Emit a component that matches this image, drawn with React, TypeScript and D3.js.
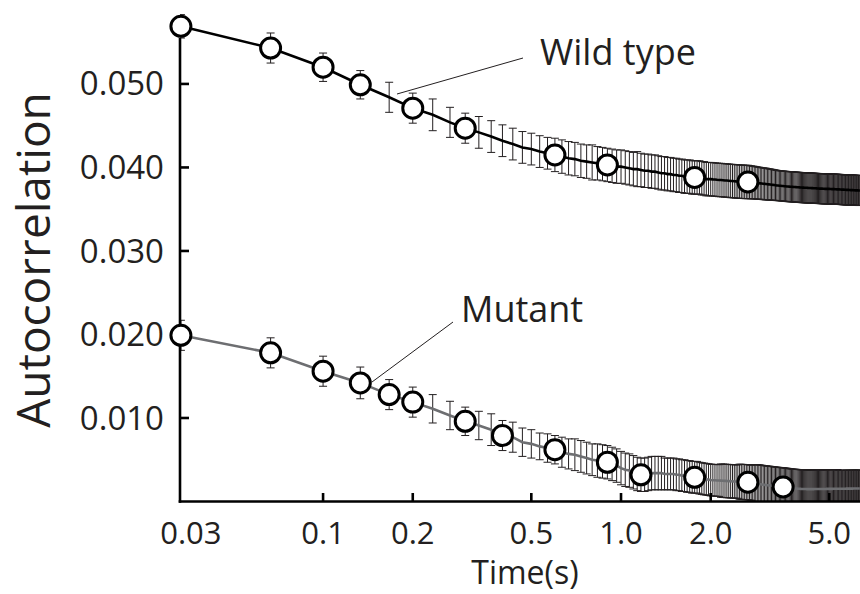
import React from 'react';
import * as d3 from 'd3';

// Lag index (frames at 30 frames/s) for every plotted lag: 1..190
const frameRate = 30;
const frames = d3.range(1, 191);

// Wild type: mean autocorrelation per lag frame
const wildMean = [
  0.0569, 0.0543, 0.0520, 0.0499, 0.0484, 0.0471, 0.0463, 0.0454, 0.0447, 0.0442,
  0.0437, 0.0432, 0.0428, 0.0424, 0.0422, 0.0419, 0.0417, 0.0415, 0.0413, 0.0411,
  0.0410, 0.0408, 0.0407, 0.0406, 0.0405, 0.0404, 0.0403, 0.0402, 0.0401, 0.0401,
  0.0400, 0.0399, 0.0398, 0.0398, 0.0397, 0.0396, 0.0396, 0.0395, 0.0395, 0.0394,
  0.0393, 0.0393, 0.0392, 0.0392, 0.0391, 0.0391, 0.0390, 0.0390, 0.0389, 0.0389,
  0.0389, 0.0388, 0.0388, 0.0388, 0.0388, 0.0387, 0.0387, 0.0386, 0.0386, 0.0386,
  0.03857, 0.03855, 0.03852, 0.03850, 0.03849, 0.03847, 0.03844, 0.03843, 0.03841, 0.03838,
  0.03837, 0.03835, 0.03833, 0.03832, 0.03830, 0.03829, 0.03828, 0.03827, 0.03826, 0.03826,
  0.03824, 0.03822, 0.03820, 0.03818, 0.03816, 0.03813, 0.03811, 0.03809, 0.03807, 0.03805,
  0.03803, 0.03801, 0.03799, 0.03797, 0.03795, 0.03793, 0.03791, 0.03789, 0.03787, 0.03784,
  0.03783, 0.03781, 0.03780, 0.03778, 0.03777, 0.03775, 0.03774, 0.03772, 0.03771, 0.03770,
  0.03769, 0.03768, 0.03767, 0.03766, 0.03765, 0.03764, 0.03763, 0.03762, 0.03761, 0.03760,
  0.03759, 0.03758, 0.03758, 0.03757, 0.03756, 0.03756, 0.03755, 0.03754, 0.03754, 0.03753,
  0.03752, 0.03752, 0.03751, 0.03750, 0.03750, 0.03749, 0.03748, 0.03748, 0.03747, 0.03747,
  0.03746, 0.03746, 0.03745, 0.03745, 0.03744, 0.03744, 0.03744, 0.03743, 0.03743, 0.03743,
  0.03742, 0.03742, 0.03741, 0.03741, 0.03740, 0.03740, 0.03739, 0.03739, 0.03738, 0.03738,
  0.03737, 0.03737, 0.03736, 0.03736, 0.03735, 0.03735, 0.03734, 0.03734, 0.03733, 0.03733,
  0.03732, 0.03732, 0.03731, 0.03731, 0.03730, 0.03730, 0.03729, 0.03729, 0.03728, 0.03728,
  0.03727, 0.03727, 0.03726, 0.03726, 0.03725, 0.03725, 0.03725, 0.03724, 0.03724, 0.03724,
];

// Wild type: error-bar half-length per lag frame
const wildErr = [
  0.0014, 0.0018, 0.0017, 0.0017, 0.0018, 0.0018, 0.0019, 0.0018, 0.0018, 0.0019,
  0.0019, 0.0019, 0.0019, 0.0019, 0.0019, 0.0019, 0.0019, 0.0020, 0.0020, 0.0020,
  0.0020, 0.0020, 0.0020, 0.0021, 0.0020, 0.0020, 0.0020, 0.0020, 0.0020, 0.0020,
  0.0020, 0.0020, 0.0020, 0.0021, 0.0020, 0.0020, 0.0020, 0.0020, 0.0020, 0.0020,
  0.0020, 0.0020, 0.0020, 0.0020, 0.0020, 0.0020, 0.0020, 0.0020, 0.0020, 0.0020,
  0.0020, 0.0020, 0.0020, 0.0020, 0.0020, 0.0020, 0.0020, 0.0020, 0.0020, 0.0020,
  0.0020, 0.0020, 0.0020, 0.0020, 0.0020, 0.0020, 0.0020, 0.0020, 0.0020, 0.0020,
  0.0020, 0.0020, 0.0020, 0.0020, 0.0020, 0.0020, 0.0020, 0.0020, 0.0020, 0.0020,
  0.00198, 0.00197, 0.00196, 0.00195, 0.00194, 0.00193, 0.00192, 0.00191, 0.0019, 0.0019,
  0.0019, 0.00189, 0.00188, 0.00187, 0.00186, 0.00185, 0.00184, 0.00183, 0.00182, 0.00181,
  0.0018, 0.0018, 0.0018, 0.0018, 0.0018, 0.0018, 0.0018, 0.0018, 0.0018, 0.0018,
  0.0018, 0.0018, 0.0018, 0.0018, 0.0018, 0.0018, 0.0018, 0.0018, 0.0018, 0.0018,
  0.0018, 0.0018, 0.0018, 0.0018, 0.0018, 0.0018, 0.0018, 0.0018, 0.0018, 0.0018,
  0.0018, 0.0018, 0.0018, 0.0018, 0.0018, 0.0018, 0.0018, 0.0018, 0.0018, 0.0018,
  0.0018, 0.0018, 0.0018, 0.0018, 0.0018, 0.0018, 0.0018, 0.0018, 0.0018, 0.0018,
  0.0018, 0.0018, 0.0018, 0.0018, 0.0018, 0.0018, 0.0018, 0.0018, 0.0018, 0.0018,
  0.0018, 0.0018, 0.0018, 0.0018, 0.0018, 0.0018, 0.0018, 0.0018, 0.0018, 0.0018,
  0.0018, 0.0018, 0.0018, 0.0018, 0.0018, 0.0018, 0.0018, 0.0018, 0.0018, 0.0018,
  0.0018, 0.0018, 0.0018, 0.0018, 0.0018, 0.0018, 0.0018, 0.0018, 0.0018, 0.0018,
];

// Mutant: mean autocorrelation per lag frame
const mutantMean = [
  0.0199, 0.0178, 0.0156, 0.0142, 0.0128, 0.0119, 0.0111, 0.0103, 0.0096, 0.0091,
  0.0086, 0.0079, 0.0077, 0.0071, 0.0069, 0.0066, 0.0064, 0.0062, 0.0059, 0.0057,
  0.0056, 0.0054, 0.0052, 0.0050, 0.0049, 0.0048, 0.0047, 0.0045, 0.0043, 0.0040,
  0.0038, 0.0037, 0.0035, 0.0033, 0.0032, 0.0032, 0.0033, 0.0034, 0.0034, 0.0034,
  0.0034, 0.0033, 0.0033, 0.0033, 0.0033, 0.0032, 0.0032, 0.0031, 0.0031, 0.0030,
  0.0030, 0.0029, 0.0029, 0.0029, 0.0028, 0.00275, 0.0027, 0.00266, 0.00262, 0.00257,
  0.00255, 0.00254, 0.00252, 0.00251, 0.00250, 0.00248, 0.00247, 0.00245, 0.00244, 0.00242,
  0.00241, 0.00240, 0.00239, 0.00238, 0.00237, 0.00236, 0.00234, 0.00233, 0.00232, 0.00231,
  0.00228, 0.00225, 0.00222, 0.00219, 0.00216, 0.00213, 0.00210, 0.00207, 0.00204, 0.00201,
  0.00199, 0.00197, 0.00195, 0.00193, 0.00191, 0.00189, 0.00187, 0.00185, 0.00183, 0.00181,
  0.00179, 0.00178, 0.00176, 0.00175, 0.00174, 0.00172, 0.00170, 0.00168, 0.00166, 0.00164,
  0.00162, 0.00160, 0.00158, 0.00157, 0.00156, 0.00155, 0.00154, 0.00153, 0.00152, 0.00151,
  0.00150, 0.00150, 0.00149, 0.00149, 0.00149, 0.00148, 0.00148, 0.00148, 0.00148, 0.00148,
  0.00148, 0.00148, 0.00148, 0.00149, 0.00149, 0.00149, 0.00149, 0.00150, 0.00150, 0.00150,
  0.00150, 0.00150, 0.00150, 0.00150, 0.00150, 0.00150, 0.00151, 0.00151, 0.00151, 0.00151,
  0.00151, 0.00151, 0.00151, 0.00151, 0.00152, 0.00152, 0.00152, 0.00152, 0.00152, 0.00152,
  0.00152, 0.00152, 0.00153, 0.00153, 0.00153, 0.00153, 0.00153, 0.00153, 0.00153, 0.00153,
  0.00154, 0.00154, 0.00154, 0.00154, 0.00154, 0.00154, 0.00154, 0.00154, 0.00154, 0.00154,
  0.00155, 0.00155, 0.00155, 0.00155, 0.00155, 0.00155, 0.00155, 0.00155, 0.00155, 0.00155,
];

// Mutant: error-bar half-length per lag frame
const mutantErr = [
  0.0018, 0.0018, 0.0018, 0.0019, 0.0018, 0.0018, 0.0017, 0.0017, 0.0017, 0.0017,
  0.0019, 0.0018, 0.0018, 0.0017, 0.0017, 0.0016, 0.0017, 0.0017, 0.0018, 0.0018,
  0.0019, 0.0019, 0.0019, 0.0019, 0.0020, 0.0020, 0.0020, 0.0020, 0.0020, 0.0020,
  0.0020, 0.0020, 0.0020, 0.0020, 0.0020, 0.0020, 0.0020, 0.0020, 0.0020, 0.0020,
  0.0020, 0.0019, 0.0019, 0.0019, 0.0019, 0.0019, 0.0019, 0.0019, 0.0019, 0.0019,
  0.0019, 0.0019, 0.0019, 0.0019, 0.0019, 0.0019, 0.0019, 0.0019, 0.0019, 0.0019,
  0.0019, 0.0019, 0.0019, 0.0019, 0.0020, 0.0020, 0.0020, 0.0020, 0.0020, 0.0020,
  0.0020, 0.0020, 0.0020, 0.0020, 0.0021, 0.0021, 0.0021, 0.0021, 0.0021, 0.0021,
  0.0021, 0.0021, 0.0022, 0.0022, 0.0022, 0.0023, 0.0023, 0.0023, 0.0023, 0.0023,
  0.0023, 0.0023, 0.0023, 0.0023, 0.0023, 0.0023, 0.0023, 0.0023, 0.0023, 0.0023,
  0.0023, 0.0023, 0.0023, 0.0023, 0.0023, 0.0023, 0.0023, 0.0023, 0.0023, 0.0023,
  0.0023, 0.0023, 0.0023, 0.0023, 0.0023, 0.0023, 0.0023, 0.0023, 0.0023, 0.0023,
  0.0023, 0.0023, 0.0023, 0.0023, 0.0023, 0.0023, 0.0023, 0.0023, 0.0023, 0.0023,
  0.0023, 0.0023, 0.0023, 0.0023, 0.0023, 0.0023, 0.0023, 0.0023, 0.0023, 0.0023,
  0.0023, 0.0023, 0.0023, 0.0023, 0.0023, 0.0023, 0.0023, 0.0023, 0.0023, 0.0023,
  0.0023, 0.0023, 0.0023, 0.0023, 0.0023, 0.0023, 0.0023, 0.0023, 0.0023, 0.0023,
  0.0022, 0.0022, 0.0022, 0.0022, 0.0022, 0.0022, 0.0022, 0.0022, 0.0022, 0.0022,
  0.0022, 0.0022, 0.0022, 0.0022, 0.0022, 0.0022, 0.0022, 0.0022, 0.0022, 0.0022,
  0.0022, 0.0022, 0.0022, 0.0022, 0.0022, 0.0022, 0.0022, 0.0022, 0.0022, 0.0022,
];

// Frames that carry an open-circle marker
const wildMarkerFrames = [1, 2, 3, 4, 6, 9, 18, 27, 53, 80];
const mutantMarkerFrames = [1, 2, 3, 4, 5, 6, 9, 12, 18, 27, 35, 53, 80, 105];

// Axis ticks
const yTicks = [0.01, 0.02, 0.03, 0.04, 0.05];
const yTickLabels = ['0.010', '0.020', '0.030', '0.040', '0.050'];
const xTicks = [0.1, 0.2, 0.5, 1, 2, 5];
const xTickLabels = ['0.1', '0.2', '0.5', '1.0', '2.0', '5.0'];
const xFirstLabel = '0.03';

const seriesNames = ['Wild type', 'Mutant'];
const xTitle = 'Time(s)';
const yTitle = 'Autocorrelation';

const W = 860;
const H = 594;
const FONT = '"Open Sans", "Liberation Sans", Arial, sans-serif';
const TEXT = '#231f20';

export default function App() {
  const x = d3.scaleLog().domain([0.0331, 6.34]).range([180, 860]);
  const y = d3.scaleLinear().domain([0, 0.0555]).range([501.5, 38]);
  const t = (k: number) => k / frameRate;

  const mk = (mean: number[], err: number[]) =>
    frames.map((k, i) => ({ k, t: t(k), m: mean[i], e: err[i] }));
  const wild = mk(wildMean, wildErr);
  const mut = mk(mutantMean, mutantErr);

  const line = d3
    .line<{ t: number; m: number }>()
    .x((d) => x(d.t))
    .y((d) => y(d.m));

  const bars = (data: { k: number; t: number; m: number; e: number }[], key: string) =>
    data.map((d) => {
      const cx = x(d.t);
      const y1 = y(d.m + d.e);
      const y2 = y(d.m - d.e);
      return (
        <g key={key + d.k}>
          <line x1={cx} x2={cx} y1={y1} y2={y2} />
          <line x1={cx - 4} x2={cx + 4} y1={y1} y2={y1} />
          <line x1={cx - 4} x2={cx + 4} y1={y2} y2={y2} />
        </g>
      );
    });

  const markers = (data: { k: number; t: number; m: number }[], fr: number[], key: string) =>
    fr.map((k) => {
      const d = data[k - 1];
      return (
        <circle
          key={key + k}
          cx={x(d.t)}
          cy={y(d.m)}
          r={10}
          fill="#fff"
          stroke="#000"
          strokeWidth={3}
        />
      );
    });

  return (
    <svg
      width={W}
      height={H}
      style={{ position: 'absolute', left: 0, top: 0, background: '#fff' }}
      fontFamily={FONT}
    >
      <defs>
        <clipPath id="plotclip">
          <rect x={180} y={0} width={680} height={501.5} />
        </clipPath>
      </defs>

      {/* error bars */}
      <g clipPath="url(#plotclip)" stroke={TEXT} strokeWidth={1}>
        {bars(wild, 'w')}
        {bars(mut, 'm')}
      </g>

      {/* lines */}
      <g clipPath="url(#plotclip)" fill="none">
        <path d={line(mut) || ''} stroke="#6d6e71" strokeWidth={2.6} />
        <path d={line(wild) || ''} stroke="#000" strokeWidth={2.6} />
      </g>

      {/* axes */}
      <g stroke="#000" strokeWidth={2.6}>
        <line x1={180} x2={180} y1={38} y2={502.8} />
        <line x1={178.7} x2={860} y1={501.5} y2={501.5} />
        {yTicks.map((v) => (
          <line key={'yt' + v} x1={180} x2={189} y1={y(v)} y2={y(v)} />
        ))}
        {xTicks.map((v) => (
          <line key={'xt' + v} x1={x(v)} x2={x(v)} y1={501.5} y2={493} />
        ))}
      </g>

      {/* markers */}
      {markers(mut, mutantMarkerFrames, 'mc')}
      {markers(wild, wildMarkerFrames, 'wc')}

      {/* tick labels */}
      <g fill={TEXT} fontSize={33}>
        {yTicks.map((v, i) => (
          <text key={'yl' + v} x={164} y={y(v)} dy="0.35em" textAnchor="end">
            {yTickLabels[i]}
          </text>
        ))}
      </g>
      <g fill={TEXT} fontSize={31} textAnchor="middle">
        <text x={x(t(1)) + 10} y={544}>
          {xFirstLabel}
        </text>
        {xTicks.map((v, i) => (
          <text key={'xl' + v} x={x(v)} y={544}>
            {xTickLabels[i]}
          </text>
        ))}
      </g>

      {/* axis titles */}
      <text x={525} y={584} fontSize={32} fill={TEXT} textAnchor="middle">
        {xTitle}
      </text>
      <text
        transform="translate(50,260) rotate(-90)"
        fontSize={46}
        fill={TEXT}
        textAnchor="middle"
      >
        {yTitle}
      </text>

      {/* annotations */}
      <g stroke={TEXT} strokeWidth={1}>
        <line x1={397} y1={94} x2={523} y2={58} />
        <line x1={372} y1={382} x2={453} y2={322} />
      </g>
      <text x={540} y={65} fontSize={36} fill={TEXT}>
        {seriesNames[0]}
      </text>
      <text x={461} y={322} fontSize={36} fill={TEXT}>
        {seriesNames[1]}
      </text>
    </svg>
  );
}
